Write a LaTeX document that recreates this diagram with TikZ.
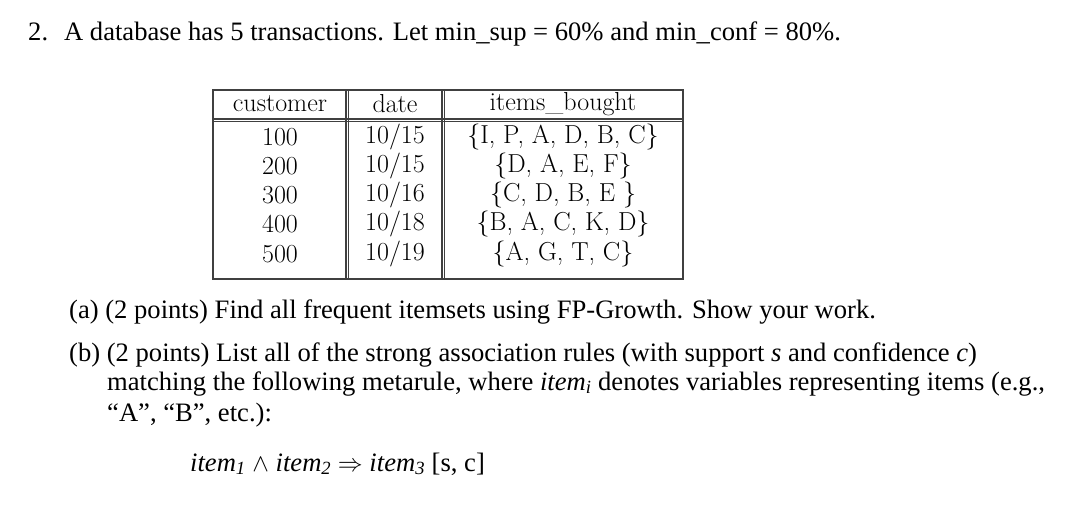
\documentclass[tikz,border=0pt]{standalone}
\usepackage{fontspec}
\setmainfont{Liberation Serif}
\newfontfamily\lmfont{Latin Modern Roman}
\begin{document}
\begin{tikzpicture}[x=1pt,y=-1pt,
  txt/.style={anchor=base west,inner sep=0pt,font=\fontsize{26.6}{31}\selectfont},
  cell/.style={inner sep=0pt,font=\lmfont\fontsize{26}{30}\selectfont},
  rule/.style={line width=1.1pt,black!75}]
\useasboundingbox (0,0) rectangle (1066,512);
\node[txt] (t1) at (28,40) {2.\hspace{0.6em}A database has 5 transactions. Let min\_sup = 60\% and min\_conf = 80\%.};
% table
\draw[rule] (213,90) rectangle (683,279);
\draw[rule] (213,119) -- (683,119);
\draw[rule] (213,121.5) -- (683,121.5);
\draw[rule] (346,90) -- (346,279);
\draw[rule] (348.5,90) -- (348.5,279);
\draw[rule] (442,90) -- (442,279);
\draw[rule] (444.5,90) -- (444.5,279);
\node[cell] (h1) at (280,104) {customer};
\node[cell] (h2) at (395,104) {date};
\node[cell] (h3) at (563,104) {items\_bought};
\foreach \c/\d/\it/\y [count=\i] in {100/10\slash 15/{\{I, P, A, D, B, C\}}/137,
  200/10\slash 15/{\{D, A, E, F\}}/166,
  300/10\slash 16/{\{C, D, B, E \}}/195,
  400/10\slash 18/{\{B, A, C, K, D\}}/224,
  500/10\slash 19/{\{A, G, T, C\}}/254}{
  \node[cell] (c\i) at (280,\y) {\c};
  \node[cell] (d\i) at (395,\y) {\d};
  \node[cell] (e\i) at (563,\y) {\it};
}
\node[txt] (a) at (69,318) {(a) (2 points) Find all frequent itemsets using FP-Growth. Show your work.};
\node[txt] (b1) at (69,361) {(b) (2 points) List all of the strong association rules (with support \textit{s} and confidence \textit{c})};
\node[txt] (b2) at (107,390) {matching the following metarule, where \textit{item\textsubscript{i}} denotes variables representing items (e.g.,};
\node[txt] (b3) at (107,421) {“A”, “B”, etc.):};
\node[txt] (f) at (190,471) {\textit{item\textsubscript{1}} $\wedge$ \textit{item\textsubscript{2}} $\Rightarrow$ \textit{item\textsubscript{3}} [s, c]};
\end{tikzpicture}
\end{document}
